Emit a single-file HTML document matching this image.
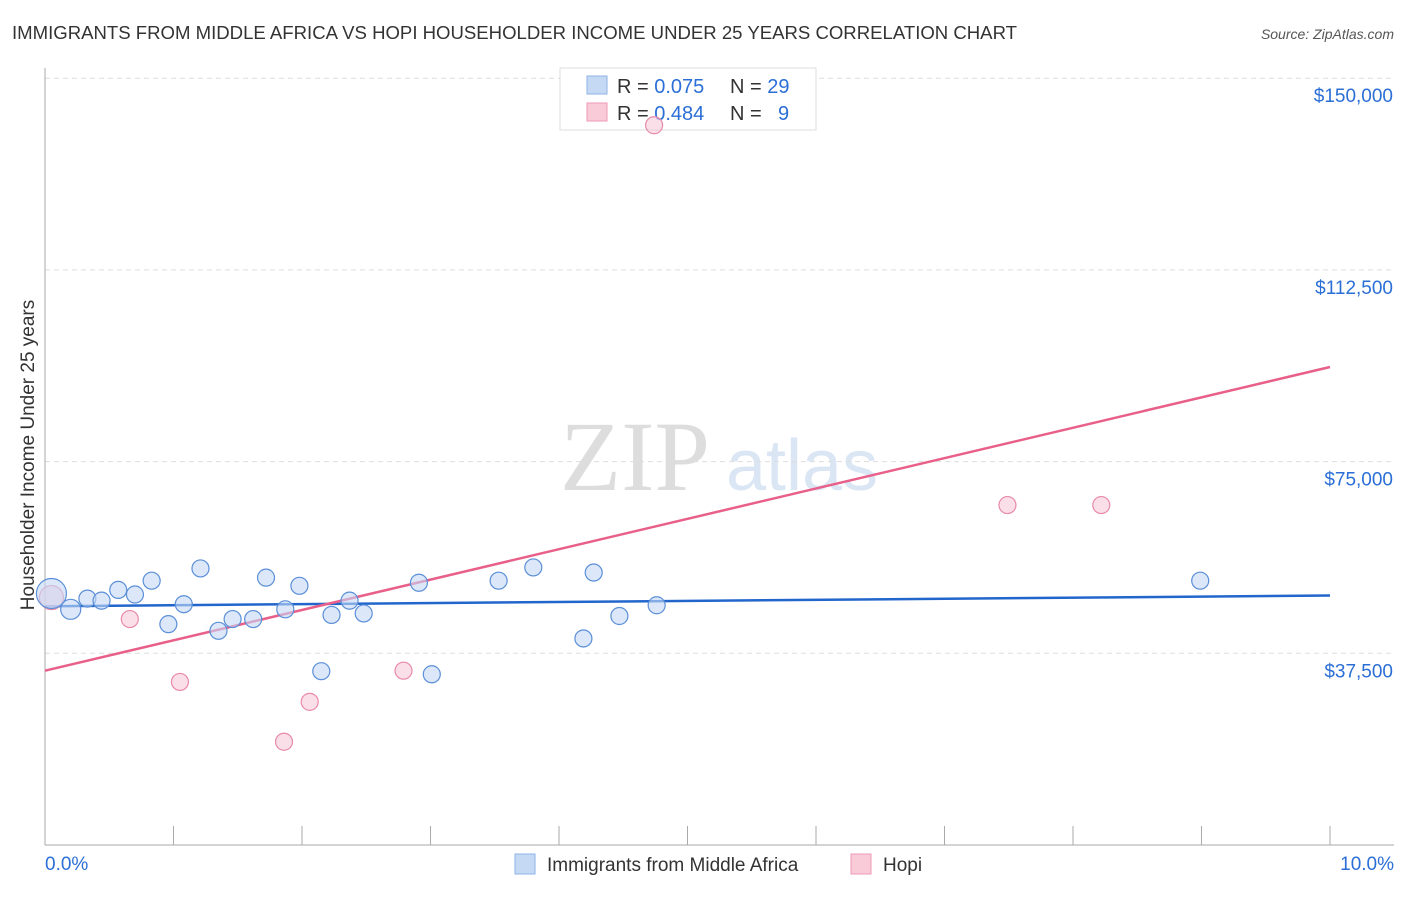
<!DOCTYPE html>
<html><head><meta charset="utf-8"><style>
body{margin:0;background:#fff;font-family:"Liberation Sans",sans-serif}
</style></head><body>
<svg id="c" width="1406" height="892" xmlns="http://www.w3.org/2000/svg">
<text x="12" y="39" font-size="18" fill="#333" textLength="1005" lengthAdjust="spacingAndGlyphs">IMMIGRANTS FROM MIDDLE AFRICA VS HOPI HOUSEHOLDER INCOME UNDER 25 YEARS CORRELATION CHART</text>
<text x="1394" y="39" font-size="14" fill="#555" font-style="italic" text-anchor="end">Source: ZipAtlas.com</text>
<text x="0" y="0" transform="translate(34,455) rotate(-90)" font-size="19" fill="#333" text-anchor="middle">Householder Income Under 25 years</text>
<g><text x="635" y="490" font-size="100" fill="#ddd" font-family="Liberation Serif" text-anchor="middle">ZIP</text><text x="802" y="490" font-size="72" fill="#dbe6f5" text-anchor="middle">atlas</text></g>
<g id="grid"></g><g id="axes"></g>
<g>
<rect x="560" y="68" width="256" height="62" fill="#fff" stroke="#ddd"/>
<rect x="587" y="76" width="20" height="18" fill="#c5d9f5" stroke="#8fb2e6"/>
<rect x="587" y="103" width="20" height="18" fill="#f9cad8" stroke="#ee9ab4"/>
<text x="617" y="93" font-size="20" fill="#333">R = <tspan fill="#2b6fd6">0.075</tspan><tspan x="730">N = </tspan><tspan fill="#2b6fd6">29</tspan></text>
<text x="617" y="120" font-size="20" fill="#333">R = <tspan fill="#2b6fd6">0.484</tspan><tspan x="730">N = </tspan><tspan x="778" fill="#2b6fd6">9</tspan></text>
</g>
<g id="lines"></g><g id="pts"></g>
<g>
<rect x="515" y="854" width="20" height="20" fill="#c5d9f5" stroke="#8fb2e6"/>
<text x="547" y="871" font-size="19" fill="#333">Immigrants from Middle Africa</text>
<rect x="851" y="854" width="20" height="20" fill="#f9cad8" stroke="#ee9ab4"/>
<text x="883" y="871" font-size="19" fill="#333">Hopi</text>
</g>
</svg>
<script>
const yTicks=[37500,75000,112500,150000];
const yTickLabels=["$37,500","$75,000","$112,500","$150,000"];
const blueX=[0.05,0.2,0.33,0.44,0.57,0.7,0.83,0.96,1.08,1.21,1.35,1.46,1.62,1.72,1.87,1.98,2.15,2.23,2.37,2.48,2.91,3.01,3.53,3.80,4.19,4.27,4.47,4.76,8.99];
const blueY=[49200,46100,48200,47800,49900,49000,51700,43200,47100,54100,41900,44200,44200,52300,46100,50700,34000,45000,47800,45300,51300,33400,51700,54300,40400,53300,44800,46900,51700];
const blueR=[15,10,8.5,8.5,8.5,8.5,8.5,8.5,8.5,8.5,8.5,8.5,8.5,8.5,8.5,8.5,8.5,8.5,8.5,8.5,8.5,8.5,8.5,8.5,8.5,8.5,8.5,8.5,8.5];
const pinkX=[0.05,0.66,1.05,1.86,2.06,2.79,4.74,7.49,8.22];
const pinkY=[48400,44200,31900,20200,28000,34100,140800,66500,66500];
const pinkR=[12,8.5,8.5,8.5,8.5,8.5,8.5,8.5,8.5];
const blueFit=[46700,48800];
const pinkFit=[34100,93500];
const X=v=>45+v/10*1285, Y=v=>845-v/37500*191.7;
const ns="http://www.w3.org/2000/svg";
function mk(p,t,a){const e=document.createElementNS(ns,t);for(const k in a)e.setAttribute(k,a[k]);document.getElementById(p).appendChild(e);return e;}
yTicks.forEach((t,i)=>{
 const l=mk('grid','line',{x1:45,x2:1394,y1:Y(t),y2:Y(t),stroke:'#ddd','stroke-dasharray':'5,4'});
 
 
 const tx=mk('axes','text',{x:1393,y:Y(t)+24,'font-size':19,fill:'#2b6fd6','text-anchor':'end'});tx.textContent=yTickLabels[i];
 
 
});
mk('axes','line',{x1:45,x2:45,y1:68,y2:845,stroke:'#aaa'});
mk('axes','line',{x1:45,x2:1394,y1:845,y2:845,stroke:'#aaa'});
for(let i=1;i<=10;i++){const x=45+i*128.5;mk('axes','line',{x1:x,x2:x,y1:826,y2:845,stroke:'#aaa'});}
let t=mk('axes','text',{x:45,y:870,'font-size':19,fill:'#2b6fd6'});t.textContent='0.0%';


t=mk('axes','text',{x:1394,y:870,'font-size':19,fill:'#2b6fd6','text-anchor':'end'});t.textContent='10.0%';


function pts(xs,ys,rs,f,s,n){xs.forEach((v,i)=>{const c=mk('pts','circle',{cx:X(v),cy:Y(ys[i]),r:rs[i],fill:f,'fill-opacity':0.6,stroke:s,'stroke-width':1.2});
 
 });}
pts(pinkX,pinkY,pinkR,'#f9cad8','#e88aa8','hopi-point');
pts(blueX,blueY,blueR,'#c5d9f5','#5b8fd8','middle-africa-point');
let l=mk('lines','line',{x1:X(0),x2:X(10),y1:Y(blueFit[0]),y2:Y(blueFit[1]),stroke:'#2266cc','stroke-width':2.5});


l=mk('lines','line',{x1:X(0),x2:X(10),y1:Y(pinkFit[0]),y2:Y(pinkFit[1]),stroke:'#e8608a','stroke-width':2.5});


</script>
</body></html>
